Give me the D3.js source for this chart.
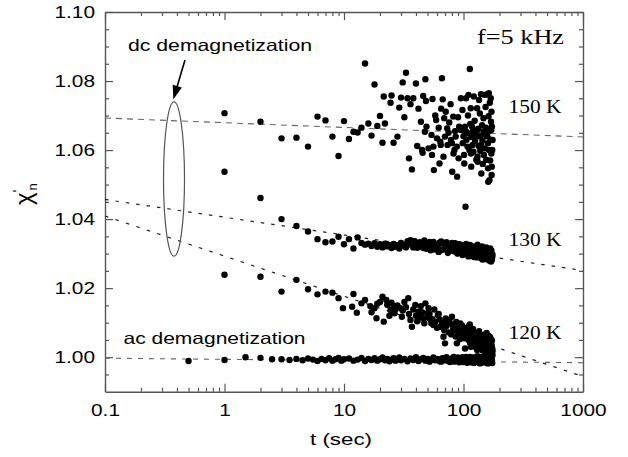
<!DOCTYPE html>
<html><head><meta charset="utf-8">
<script src="https://cdn.jsdelivr.net/npm/d3@7"></script>
<style>
html,body{margin:0;padding:0;background:#fff;}
svg{display:block;}
</style></head>
<body><svg id="chart" width="628" height="457"></svg>
<script>
// ---------- data ----------
const xTickValues = [0.1, 1, 10, 100, 1000];
const xTickLabels = ["0.1", "1", "10", "100", "1000"];
const yTickValues = [1.00, 1.02, 1.04, 1.06, 1.08, 1.10];
const yTickLabels = ["1.00", "1.02", "1.04", "1.06", "1.08", "1.10"];

// 150 K (dc demagnetization)
const t150 = [1,2,3,4,5,6,7,8,9,10,11,12,13,14,15,16,17,18,19,20,21,21.5,22,24.5,25,26,28,29,30,31,32,33,34,35,36,37,38,40,41,42,44,45,45.5,46,47.5,48,48.5,49,51,54,54.5,55,56,56.5,58,59,60,62,63,64,64.5,65,66,67,68,69,70,71,73,73.5,75,76,78,78.5,80,80.5,82,82.5,84,85,86,88,88.5,90,91,92,95,95.5,98,98.5,100,101,101.5,103,104,105,105.5,106,108,109,110,111,112,113,114,115,115.5,116,117,118,119,120,121,122,124,125,127,128,130,130.5,131,131.5,133,134,135,136,137,138,140,140.5,141,143,144,145,147,147.5,148,150,150.5,151,153,154,155,157,158,160,160.5,161,162,163,163.5,164,165,166,167,168,169,170,170.5,171,171.5,172,172.5,173,174,175];
const chi150 = [1.0707,1.0682,1.0634,1.0636,1.0610,1.0697,1.0686,1.0639,1.0583,1.0684,1.0632,1.0653,1.0651,1.0665,1.0851,1.0677,1.0642,1.0790,1.0670,1.0699,1.0621,1.0755,1.0677,1.0737,1.0758,1.0621,1.0639,1.0723,1.0752,1.0796,1.0695,1.0824,1.0750,1.0576,1.0733,1.0544,1.0750,1.0793,1.0612,1.0720,1.0682,1.0600,1.0592,1.0757,1.0653,1.0805,1.0742,1.0668,1.0605,1.0644,1.0586,1.0748,1.0610,1.0542,1.0700,1.0687,1.0634,1.0665,1.0561,1.0624,1.0615,1.0720,1.0808,1.0747,1.0581,1.0692,1.0639,1.0711,1.0663,1.0615,1.0650,1.0680,1.0733,1.0629,1.0620,1.0537,1.0697,1.0590,1.0600,1.0655,1.0639,1.0610,1.0523,1.0695,1.0576,1.0668,1.0750,1.0658,1.0716,1.0620,1.0640,1.0586,1.0561,1.0668,1.0436,1.0750,1.0653,1.0630,1.0610,1.0700,1.0760,1.0648,1.0600,1.0835,1.0676,1.0721,1.0590,1.0552,1.0638,1.0668,1.0615,1.0655,1.0595,1.0755,1.0685,1.0627,1.0642,1.0572,1.0721,1.0658,1.0581,1.0566,1.0662,1.0612,1.0745,1.0640,1.0706,1.0598,1.0762,1.0615,1.0532,1.0672,1.0628,1.0560,1.0692,1.0653,1.0586,1.0760,1.0645,1.0605,1.0725,1.0665,1.0572,1.0761,1.0640,1.0620,1.0547,1.0508,1.0698,1.0765,1.0600,1.0655,1.0513,1.0737,1.0570,1.0630,1.0750,1.0682,1.0658,1.0590,1.0711,1.0528,1.0552,1.0668,1.0600,1.0629];

// 130 K (dc demagnetization)
const t130 = [1,2,3,4,5,6,7,8,9,10,11,12,13,14,15,16,17,18,19,20,21,22,23,24,25,26,27,28,29,30,32,34,36,38,40,42,44,46,48,50,53,56,59,62,65,68,71,74,77,80,83,86,89,92,95,98,101,104,107,110,113,116,119,122,125,128,131,134,137,140,143,146,149,152,155,158,161,164,167,170,172,174,
  31,33,35,37,39,41,43,45,47,49,51,52,55,57,58,61,63,64,67,70,72,75,78,79,82,85,87,90,93,96,99,102,105,108,111,114,117,120,123,126,129,132,135,138,141,144,147,150,153,156,159,162,165,168,171,173,175];
const chi130 = [1.0537,1.0461,1.0400,1.0380,1.0364,1.0342,1.0333,1.0335,1.0349,1.0327,1.0342,1.0315,1.0347,1.0331,1.0326,1.0329,1.0322,1.0330,1.0320,1.0327,1.0318,1.0329,1.0321,1.0325,1.0316,1.0328,1.0320,1.0324,1.0315,1.0331,1.0322,1.0336,1.0339,1.0318,1.0330,1.0321,1.0327,1.0316,1.0333,1.0322,1.0310,1.0334,1.0319,1.0305,1.0335,1.0312,1.0326,1.0302,1.0320,1.0331,1.0307,1.0318,1.0300,1.0327,1.0311,1.0296,1.0322,1.0305,1.0316,1.0292,1.0325,1.0301,1.0313,1.0290,1.0319,1.0303,1.0326,1.0295,1.0310,1.0287,1.0321,1.0299,1.0313,1.0284,1.0318,1.0293,1.0306,1.0280,1.0315,1.0277,1.0300,1.0290,
  1.0326,1.0318,1.0331,1.0324,1.0336,1.0317,1.0333,1.0325,1.0338,1.0314,1.0329,1.0334,1.0320,1.0312,1.0328,1.0323,1.0332,1.0309,1.0329,1.0315,1.0333,1.0318,1.0308,1.0327,1.0322,1.0330,1.0306,1.0316,1.0304,1.0325,1.0310,1.0299,1.0328,1.0303,1.0318,1.0296,1.0322,1.0307,1.0297,1.0311,1.0289,1.0316,1.0302,1.0292,1.0308,1.0283,1.0311,1.0295,1.0305,1.0287,1.0312,1.0294,1.0303,1.0286,1.0309,1.0282,1.0297];

// 120 K (dc demagnetization)
const t120 = [1,2,3,4,5,6,7,8,9,9.8,11.7,12,12.8,14,15,16.6,18,18.7,20,21,21.5,22.6,23,24.5,25,26,26.5,27,28,29.7,30.5,31,33,34.5,35,36,37,38,39.5,40,41,42,43.8,45,46,47,48,49.5,50,52,53,55,56,58,60,61,63,64,66,68,69,70,72,73,75,77,79,80,82,84,86,88,90,91,93,95,98,100,101,103,105,108,110,111,112,113,114,115,117,119,120,121,124,126,127,130,132,134,135,136,138,140,142,144,145,148,150,152,154,156,158,160,162,164,165,166,168,170,171,172,173,174,175,
  150,155,159,163,167,169,171,173,175,157,146,141,137,129,133,123,118,116,106,97,94,87,81,76,71,67,62,57,54,51,44,32,24,19,17];
const chi120 = [1.0239,1.0233,1.0190,1.0224,1.0197,1.0182,1.0190,1.0187,1.0171,1.0142,1.0146,1.0183,1.0129,1.0156,1.0166,1.0148,1.0142,1.0113,1.0160,1.0175,1.0103,1.0166,1.0152,1.0137,1.0158,1.0148,1.0127,1.0139,1.0150,1.0142,1.0117,1.0135,1.0145,1.0171,1.0125,1.0108,1.0088,1.0138,1.0151,1.0120,1.0104,1.0132,1.0117,1.0130,1.0112,1.0098,1.0156,1.0127,1.0115,1.0125,1.0108,1.0110,1.0093,1.0102,1.0085,1.0122,1.0110,1.0088,1.0095,1.0059,1.0078,1.0040,1.0090,1.0103,1.0072,1.0098,1.0066,1.0117,1.0084,1.0078,1.0060,1.0040,1.0085,1.0069,1.0052,1.0070,1.0088,1.0078,1.0055,1.0025,1.0062,1.0074,1.0050,1.0090,1.0068,1.0095,1.0040,1.0030,1.0055,1.0064,1.0082,1.0045,1.0030,1.0060,1.0050,1.0021,1.0044,1.0028,1.0075,1.0052,1.0038,1.0059,1.0045,1.0020,1.0035,1.0052,1.0030,1.0012,1.0045,1.0070,1.0025,1.0021,1.0062,1.0012,1.0001,1.0045,1.0030,1.0052,1.0008,1.0035,1.0015,1.0025,1.0006,
  1.0065,1.0058,1.0048,1.0032,1.0058,1.0040,1.0025,1.0048,1.0018,1.0010,1.0062,1.0026,1.0064,1.0070,1.0058,1.0072,1.0080,1.0048,1.0085,1.0092,1.0098,1.0102,1.0095,1.0106,1.0112,1.0100,1.0125,1.0138,1.0098,1.0142,1.0148,1.0160,1.0120,1.0155,1.0130];

// ac demagnetization
const tAC = [0.5,1,1.5,2,2.5,3,3.5,4,4.5,5,5.5,6,6.5,7,7.5,8,8.5,9,9.5,10,11,12,13,14,15,16,17,18,19,20,21,22,23,24,25,26,27,28,29,30,32,34,36,38,40,42,44,46,48,50,52,54,56,58,60,63,66,69,72,75,78,81,84,87,90,93,96,99,102,105,108,111,114,117,120,123,126,129,132,135,138,141,144,147,150,153,156,159,162,165,168,171,173,
  62,65,68,71,74,77,80,83,86,89,92,95,98,101,104,107,110,113,116,119,122,125,128,131,134,137,140,143,146,149,152,155,158,161,164,167,170,172,174];
const chiAC = [0.9989,0.9992,1.0000,0.9998,0.9994,0.9994,0.9992,0.9995,0.9991,0.9996,0.9993,0.9989,0.9995,0.9991,0.9997,0.9990,0.9994,0.9998,0.9990,0.9994,0.9996,0.9990,0.9993,0.9998,0.9989,0.9995,0.9992,0.9997,0.9990,0.9994,0.9999,0.9991,0.9995,0.9988,0.9993,0.9997,0.9990,0.9994,0.9999,0.9991,0.9995,0.9988,0.9996,0.9992,1.0000,0.9989,0.9994,0.9998,0.9990,0.9995,0.9987,0.9993,0.9999,0.9991,0.9995,0.9988,0.9996,0.9992,1.0000,0.9989,0.9994,0.9998,0.9987,0.9993,0.9999,0.9990,0.9995,0.9986,0.9992,1.0001,0.9989,0.9995,0.9985,0.9993,0.9999,0.9988,0.9994,1.0002,0.9986,0.9993,0.9999,0.9984,0.9991,1.0001,0.9987,0.9994,0.9983,0.9998,0.9989,1.0002,0.9984,0.9995,0.9990,
  0.9993,0.9987,0.9997,0.9991,0.9995,0.9986,0.9992,1.0001,0.9990,0.9996,0.9985,0.9992,1.0000,0.9988,0.9995,0.9984,0.9993,1.0001,0.9987,0.9994,0.9983,0.9991,0.9998,0.9986,1.0002,0.9982,0.9993,0.9999,0.9985,0.9990,1.0003,0.9987,0.9992,0.9982,0.9996,1.0001,0.9986,0.9993,0.9983];

// fitted lines (endpoints at t = 0.1 and t = 1000)
const fitT = [0.1, 1000];
const fit150 = [1.0693, 1.0638];
const fit130 = [1.0457, 1.0251];
const fit120 = [1.0409, 0.9944];
const fitAC = [0.9997, 0.9984];

const tempLabels = ["150 K", "130 K", "120 K"];

// ---------- drawing ----------
const svg = d3.select("#chart");
const W = 628, H = 457;
const m = {left: 105, right: 45, top: 12, bottom: 65.3};
const x = d3.scaleLog().domain([0.1, 1000]).range([m.left, W - m.right]);
const y = d3.scaleLinear().domain([0.99, 1.10]).range([H - m.bottom, m.top]);

const SANS = "'Liberation Sans', Arial, Helvetica, sans-serif";
const SERIF = "'Liberation Serif', 'Times New Roman', Times, serif";
const AX = "#555";

function stretchTo(sel, width) {
  sel.attr("textLength", width).attr("lengthAdjust", "spacingAndGlyphs");
}
function stretchBy(sel, k) {
  sel.each(function () {
    const w = this.getComputedTextLength();
    this.setAttribute("textLength", w * k);
    this.setAttribute("lengthAdjust", "spacingAndGlyphs");
  });
}

const xMinor = [];
[0.1, 1, 10, 100].forEach(d => { for (let k = 2; k <= 9; k++) xMinor.push(d * k); });
const yMinor = d3.range(0, 23).map(i => +(0.99 + i * 0.005).toFixed(3))
  .filter(v => !yTickValues.some(t => Math.abs(t - v) < 1e-6) && v > 0.99 && v < 1.10);

const plotB = y(0.99), plotT = y(1.10), plotL = x(0.1), plotR = x(1000);

function styleAxis(g) {
  g.selectAll("path.domain").attr("stroke", AX).attr("stroke-width", 1.4);
  g.selectAll(".tick line").attr("stroke", AX).attr("stroke-width", 1.2);
}

const gB = svg.append("g").attr("transform", `translate(0,${plotB})`)
  .call(d3.axisBottom(x).tickValues(xTickValues).tickFormat((d, i) => xTickLabels[i])
    .tickSize(-8).tickSizeOuter(0).tickPadding(13));
gB.call(styleAxis);
gB.selectAll("text").attr("font-family", SANS).attr("font-size", 16.3).attr("fill", "#000");
stretchBy(gB.selectAll("text"), 1.28);
svg.append("g").attr("transform", `translate(0,${plotB})`)
  .call(d3.axisBottom(x).tickValues(xMinor).tickFormat("").tickSize(-4).tickSizeOuter(0))
  .call(g => g.select("path.domain").remove()).call(styleAxis);

svg.append("g").attr("transform", `translate(0,${plotT})`)
  .call(d3.axisTop(x).tickValues(xTickValues).tickFormat("").tickSize(-8).tickSizeOuter(0)).call(styleAxis);
svg.append("g").attr("transform", `translate(0,${plotT})`)
  .call(d3.axisTop(x).tickValues(xMinor).tickFormat("").tickSize(-4).tickSizeOuter(0))
  .call(g => g.select("path.domain").remove()).call(styleAxis);

const gL = svg.append("g").attr("transform", `translate(${plotL},0)`)
  .call(d3.axisLeft(y).tickValues(yTickValues).tickFormat((d, i) => yTickLabels[i])
    .tickSize(-8).tickSizeOuter(0).tickPadding(10));
gL.call(styleAxis);
gL.selectAll("text").attr("font-family", SANS).attr("font-size", 16.3).attr("fill", "#000");
stretchBy(gL.selectAll("text"), 1.28);
svg.append("g").attr("transform", `translate(${plotL},0)`)
  .call(d3.axisLeft(y).tickValues(yMinor).tickFormat("").tickSize(-4).tickSizeOuter(0))
  .call(g => g.select("path.domain").remove()).call(styleAxis);

svg.append("g").attr("transform", `translate(${plotR},0)`)
  .call(d3.axisRight(y).tickValues(yTickValues).tickFormat("").tickSize(-8).tickSizeOuter(0)).call(styleAxis);
svg.append("g").attr("transform", `translate(${plotR},0)`)
  .call(d3.axisRight(y).tickValues(yMinor).tickFormat("").tickSize(-4).tickSizeOuter(0))
  .call(g => g.select("path.domain").remove()).call(styleAxis);

const line = d3.line().x(d => x(d[0])).y(d => y(d[1]));
const fits = [
  {v: fit150, dash: "6,5", color: "#666", w: 1.1},
  {v: fit130, dash: "3.5,7", color: "#222", w: 1.2},
  {v: fit120, dash: "3.5,7.5", color: "#222", w: 1.2},
  {v: fitAC, dash: "5,6", color: "#666", w: 1.1}
];
fits.forEach(f => {
  svg.append("path").datum(fitT.map((t, i) => [t, f.v[i]]))
    .attr("d", line).attr("fill", "none").attr("stroke", f.color)
    .attr("stroke-width", f.w).attr("stroke-dasharray", f.dash);
});

const series = [[t150, chi150], [t130, chi130], [t120, chi120], [tAC, chiAC]];
series.forEach(([ts, cs]) => {
  svg.append("g").selectAll("circle").data(ts.map((t, i) => [t, cs[i]])).join("circle")
    .attr("cx", d => x(d[0])).attr("cy", d => y(d[1])).attr("r", 3.2).attr("fill", "#000");
});

const eC = [0.378, 1.0516];
svg.append("ellipse")
  .attr("cx", x(eC[0])).attr("cy", y(eC[1]))
  .attr("rx", 10.5).attr("ry", (y(1.0293) - y(1.0740)) / 2)
  .attr("fill", "none").attr("stroke", "#555").attr("stroke-width", 1.2);

const aFrom = [0.467, 1.0861], aTo = [0.373, 1.07465];
{
  const x1 = x(aFrom[0]), y1 = y(aFrom[1]), x2 = x(aTo[0]), y2 = y(aTo[1]);
  const dx = x2 - x1, dy = y2 - y1, L = Math.hypot(dx, dy);
  const ux = dx / L, uy = dy / L, hl = 14, hw = 4.8;
  const bx = x2 - ux * hl, by = y2 - uy * hl;
  svg.append("line").attr("x1", x1).attr("y1", y1).attr("x2", bx + ux * 2).attr("y2", by + uy * 2)
    .attr("stroke", "#000").attr("stroke-width", 1.6);
  svg.append("path").attr("d", `M${x2},${y2}L${bx - uy * hw},${by + ux * hw}L${bx + uy * hw},${by - ux * hw}Z`)
    .attr("fill", "#000");
}

svg.append("text").attr("x", 128).attr("y", 51).attr("font-family", SANS).attr("font-size", 16.5)
  .text("dc demagnetization").call(stretchTo, 184);
svg.append("text").attr("x", 123.5).attr("y", 344).attr("font-family", SANS).attr("font-size", 16.5)
  .text("ac demagnetization").call(stretchTo, 182);
svg.append("text").attr("x", 341).attr("y", 445).attr("text-anchor", "middle")
  .attr("font-family", SANS).attr("font-size", 16.5).text("t (sec)").call(stretchTo, 62);

svg.append("text").attr("x", 477).attr("y", 43.5).attr("font-family", SERIF).attr("font-size", 21.5)
  .text("f=5 kHz").call(stretchTo, 87);
const tempPos = [113.3, 245.7, 339.3];
tempLabels.forEach((s, i) => {
  svg.append("text").attr("x", 508.5).attr("y", tempPos[i]).attr("font-family", SERIF)
    .attr("font-size", 19.5).text(s).call(stretchTo, 53);
});

const yl = svg.append("text").attr("transform", "translate(32,205) rotate(-90)")
  .attr("font-family", SANS).attr("font-size", 24).attr("fill", "#000");
yl.append("tspan").text("χ");
yl.append("tspan").attr("font-size", 15).attr("dy", -9).text("'");
yl.append("tspan").attr("font-size", 13).attr("dx", -1).attr("dy", 14).text("n");
</script>
</body></html>
